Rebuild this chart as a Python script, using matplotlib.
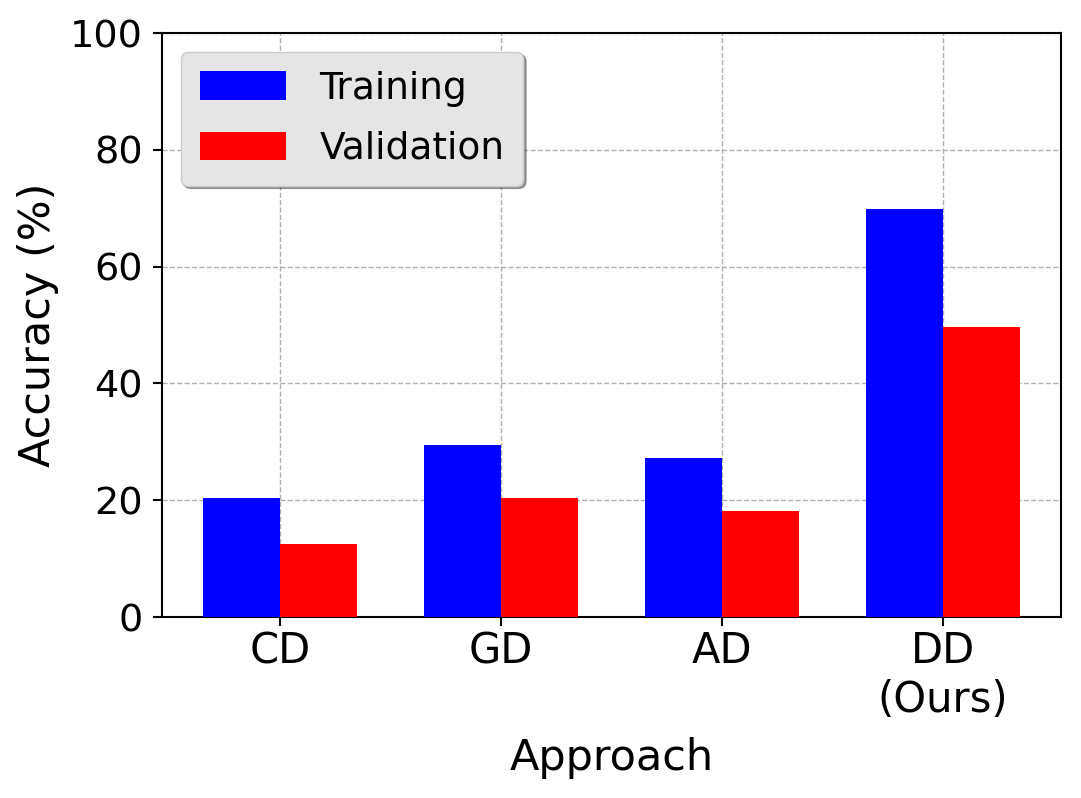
import matplotlib
matplotlib.use("Agg")
import matplotlib.pyplot as plt
import numpy as np

categories = ["CD", "GD", "AD", "DD\n(Ours)"]
training = [20.4, 29.5, 27.3, 69.9]
validation = [12.5, 20.4, 18.2, 49.7]

fig = plt.figure(figsize=(10.81, 7.98), dpi=100)
ax = fig.add_axes([162/1081, 1-617/798, (1061-162)/1081, (617-33)/798])

x = np.arange(len(categories))
w = 0.35
ax.bar(x - w/2, training, w, color="blue", label="Training", zorder=3)
ax.bar(x + w/2, validation, w, color="red", label="Validation", zorder=3)

ax.set_ylim(0, 100)
ax.set_xticks(x)
ax.set_xticklabels(categories, fontsize=30)
ax.tick_params(axis="y", labelsize=27.5, pad=7.5)
ax.tick_params(axis="x", pad=3)
ax.tick_params(axis="both", length=6.5, width=1.5)
ax.set_xlabel("Approach", fontsize=31, labelpad=12)
ax.set_ylabel("Accuracy (%)", fontsize=31, labelpad=8)
ax.grid(True, linestyle="--", color="#b0b0b0", linewidth=1, zorder=0)
ax.set_axisbelow(True)
for s in ax.spines.values():
    s.set_linewidth(1.5)

leg = ax.legend(loc="upper left", fontsize=27, fancybox=True, shadow=True,
                handlelength=2.3, handleheight=0.8, handletextpad=0.9,
                borderpad=0.5, labelspacing=0.65)
leg.get_frame().set_facecolor("#e5e5e5")
leg.get_frame().set_alpha(1)

fig.savefig("out.png", dpi=100)
